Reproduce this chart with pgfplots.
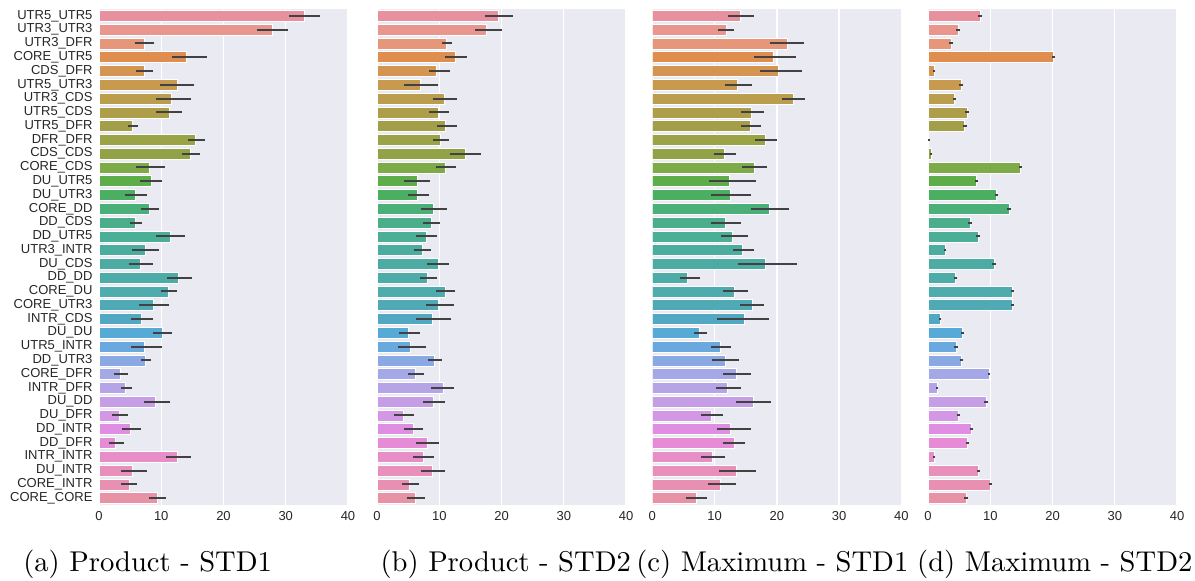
\documentclass[border=0pt]{standalone}
\usepackage{pgfplots}
\pgfplotsset{compat=1.18}
\usepackage{pgfplotstable}
\usepackage{fontspec}
\newfontfamily\sns{Liberation Sans}

\definecolor{bgc}{HTML}{EAEAF2}
\definecolor{errc}{HTML}{424242}
\definecolor{txt}{HTML}{262626}
\definecolor{c0}{HTML}{E8919E}
\definecolor{c1}{HTML}{E9968F}
\definecolor{c2}{HTML}{E6977A}
\definecolor{c3}{HTML}{E08E50}
\definecolor{c4}{HTML}{D39550}
\definecolor{c5}{HTML}{C79A4F}
\definecolor{c6}{HTML}{BA9D4D}
\definecolor{c7}{HTML}{AE9E4A}
\definecolor{c8}{HTML}{A29F48}
\definecolor{c9}{HTML}{9AA447}
\definecolor{c10}{HTML}{92A247}
\definecolor{c11}{HTML}{7DAB48}
\definecolor{c12}{HTML}{5DAD4A}
\definecolor{c13}{HTML}{4AAF61}
\definecolor{c14}{HTML}{4AAF79}
\definecolor{c15}{HTML}{4BAE8A}
\definecolor{c16}{HTML}{4BAE96}
\definecolor{c17}{HTML}{4BADA0}
\definecolor{c18}{HTML}{4CACA4}
\definecolor{c19}{HTML}{4DABA8}
\definecolor{c20}{HTML}{4EABAE}
\definecolor{c21}{HTML}{4FAAB5}
\definecolor{c22}{HTML}{52A8C2}
\definecolor{c23}{HTML}{56AAD6}
\definecolor{c24}{HTML}{6AA9E0}
\definecolor{c25}{HTML}{8AA9E4}
\definecolor{c26}{HTML}{A5A8E6}
\definecolor{c27}{HTML}{B6A5E6}
\definecolor{c28}{HTML}{C69EE6}
\definecolor{c29}{HTML}{D397E5}
\definecolor{c30}{HTML}{E08DE4}
\definecolor{c31}{HTML}{E68BD6}
\definecolor{c32}{HTML}{E78DC7}
\definecolor{c33}{HTML}{E88FBC}
\definecolor{c34}{HTML}{E890B2}
\definecolor{c35}{HTML}{E892A6}

% Product - STD1
\pgfplotstableread{
idx val lo hi
0 33.0 30.5 35.5
1 27.9 25.4 30.3
2 7.2 5.8 8.9
3 14.1 11.7 17.3
4 7.2 5.9 8.7
5 12.5 9.8 15.3
6 11.6 9.1 14.8
7 11.3 9.1 13.4
8 5.4 4.6 6.3
9 15.4 14.3 17.0
10 14.6 13.3 16.2
11 8.1 6.0 10.6
12 8.4 6.6 10.2
13 5.8 4.1 7.7
14 8.0 6.7 9.6
15 5.8 5.0 6.9
16 11.5 9.2 13.8
17 7.4 5.3 9.6
18 6.7 4.8 8.7
19 12.7 10.9 15.0
20 11.1 9.9 12.6
21 8.8 6.5 11.3
22 6.75 5.1 8.7
23 10.1 8.7 11.8
24 7.3 5.1 10.2
25 7.5 6.8 8.4
26 3.4 2.4 4.7
27 4.3 3.5 5.3
28 9.0 7.3 11.4
29 3.2 2.1 4.6
30 5.0 3.7 6.7
31 2.6 1.6 4.0
32 12.6 10.7 14.7
33 5.4 3.5 7.7
34 4.8 3.5 6.1
35 9.3 8.0 10.8
}\tabA

% Product - STD2
\pgfplotstableread{
idx val lo hi
0 19.5 17.3 21.9
1 17.6 15.7 20.1
2 11.2 10.4 12.0
3 12.5 10.9 14.4
4 9.6 8.3 11.7
5 7.0 4.3 9.8
6 10.8 9.0 12.9
7 9.9 8.4 11.6
8 11.0 9.7 12.8
9 10.1 9.0 11.6
10 14.2 11.7 16.7
11 11.0 9.4 12.7
12 6.5 4.4 8.5
13 6.5 4.9 8.4
14 9.0 7.1 11.2
15 8.7 7.4 10.1
16 7.9 6.3 9.7
17 7.3 6.0 8.7
18 9.9 8.1 11.6
19 8.1 6.95 9.7
20 11.0 9.4 12.6
21 9.9 7.9 12.3
22 8.9 6.3 11.9
23 5.0 3.6 6.9
24 5.3 3.4 7.8
25 9.25 8.2 10.4
26 6.15 4.9 7.6
27 10.6 8.7 12.3
28 9.0 7.4 11.0
29 4.3 2.8 5.9
30 5.8 4.4 7.4
31 8.0 6.3 9.9
32 7.4 5.8 9.1
33 8.9 7.0 11.0
34 5.2 4.0 6.7
35 6.15 4.8 7.75
}\tabB

% Maximum - STD1
\pgfplotstableread{
idx val lo hi
0 14.2 12.1 16.3
1 11.9 10.6 13.2
2 21.7 18.9 24.4
3 19.4 16.3 23.1
4 20.2 17.3 24.0
5 13.6 11.6 16.0
6 22.6 20.8 24.5
7 15.9 14.2 18.0
8 15.7 14.2 17.5
9 18.2 16.5 20.1
10 11.6 9.9 13.5
11 16.4 14.4 18.4
12 12.35 9.1 16.7
13 12.6 9.5 15.8
14 18.8 15.9 21.9
15 11.8 9.4 14.3
16 12.9 11.0 15.4
17 14.5 12.9 16.3
18 18.1 13.8 23.2
19 5.7 4.4 7.6
20 13.2 11.3 15.3
21 16.0 14.1 18.0
22 14.7 10.4 18.8
23 7.6 6.7 8.8
24 10.9 9.5 12.6
25 11.7 9.6 14.0
26 13.5 11.4 15.8
27 12.1 10.2 14.2
28 16.3 13.4 19.1
29 9.5 7.8 11.3
30 12.6 10.4 15.8
31 13.1 11.4 14.9
32 9.6 7.8 11.7
33 13.5 10.7 16.7
34 10.9 9.0 13.4
35 7.1 5.4 8.8
}\tabC

% Maximum - STD2
\pgfplotstableread{
idx val lo hi
0 8.4 8.05 8.75
1 4.8 4.5 5.1
2 3.7 3.45 3.95
3 20.2 19.95 20.45
4 1.0 0.8 1.2
5 5.3 5.0 5.6
6 4.2 3.95 4.45
7 6.3 6.0 6.6
8 5.9 5.6 6.2
9 0.1 0.0 0.2
10 0.5 0.35 0.65
11 14.85 14.6 15.1
12 7.8 7.55 8.05
13 11.0 10.7 11.3
14 13.0 12.7 13.3
15 6.75 6.5 7.0
16 8.0 7.7 8.3
17 2.7 2.5 2.9
18 10.6 10.35 10.85
19 4.45 4.2 4.7
20 13.6 13.35 13.85
21 13.6 13.35 13.85
22 1.9 1.7 2.1
23 5.5 5.25 5.75
24 4.5 4.25 4.75
25 5.4 5.15 5.65
26 9.8 9.6 10.0
27 1.45 1.25 1.65
28 9.3 9.0 9.6
29 4.9 4.7 5.1
30 7.0 6.7 7.3
31 6.3 6.05 6.55
32 1.0 0.85 1.15
33 8.1 7.85 8.35
34 10.0 9.75 10.25
35 6.1 5.85 6.35
}\tabD

\pgfplotsset{
  panel/.style={
    scale only axis, width=249pt, height=496pt,
    anchor=south west,
    xmin=0, xmax=40, ymin=-0.5, ymax=35.5, y dir=reverse,
    axis background/.style={fill=bgc},
    axis line style={draw=none},
    major tick length=0pt,
    xtick={0,10,20,30,40},
    xmajorgrids,
    major grid style={white, line width=1.4pt},
    ytick={0,...,35},
    ticklabel style={font=\sns\fontsize{13}{15}\selectfont, text=txt},
    /pgf/number format/assume math mode=true,
    xticklabel style={yshift=-2.5pt},
    yticklabel style={xshift=-3pt},
  },
  barp/.style={xbar, bar shift=0pt, bar width=0.8, draw=white, line width=0.6pt,
    error bars/x dir=both, error bars/x explicit, error bars/error mark=none,
    error bars/error bar style={line width=2pt, draw=errc, solid}},
}

\newcommand{\bars}[1]{%
  \pgfplotsinvokeforeach{0,...,35}{
    \addplot[barp, fill=c##1, restrict y to domain=##1:##1]
      table[x=val, y=idx,
        x error plus expr=\thisrow{hi}-\thisrow{val},
        x error minus expr=\thisrow{val}-\thisrow{lo}] {#1};
  }%
}

\begin{document}
\begin{tikzpicture}
\path[use as bounding box] (0pt,0pt) rectangle (1195pt,-581pt);

\begin{axis}[panel, at={(99pt,-505pt)},
  yticklabels={UTR5\_UTR5, UTR3\_UTR3, UTR3\_DFR, CORE\_UTR5, CDS\_DFR, UTR5\_UTR3,
    UTR3\_CDS, UTR5\_CDS, UTR5\_DFR, DFR\_DFR, CDS\_CDS, CORE\_CDS, DU\_UTR5, DU\_UTR3,
    CORE\_DD, DD\_CDS, DD\_UTR5, UTR3\_INTR, DU\_CDS, DD\_DD, CORE\_DU, CORE\_UTR3,
    INTR\_CDS, DU\_DU, UTR5\_INTR, DD\_UTR3, CORE\_DFR, INTR\_DFR, DU\_DD, DU\_DFR,
    DD\_INTR, DD\_DFR, INTR\_INTR, DU\_INTR, CORE\_INTR, CORE\_CORE}]
\bars{\tabA}
\end{axis}

\begin{axis}[panel, at={(377pt,-505pt)}, yticklabels={}]
\bars{\tabB}
\end{axis}

\begin{axis}[panel, at={(652.3pt,-505pt)}, yticklabels={}]
\bars{\tabC}
\end{axis}

\begin{axis}[panel, at={(928pt,-505pt)}, yticklabels={}]
\bars{\tabD}
\end{axis}

\node[anchor=base west, scale=2.86, font=\fontsize{10}{12}\selectfont, inner sep=0pt] at (22.7pt,-571.7pt) {(a) Product - STD1};
\node[anchor=base west, scale=2.86, font=\fontsize{10}{12}\selectfont, inner sep=0pt] at (380pt,-571.7pt) {(b) Product - STD2};
\node[anchor=base west, scale=2.86, font=\fontsize{10}{12}\selectfont, inner sep=0pt] at (635.7pt,-571.7pt) {(c) Maximum - STD1};
\node[anchor=base east, scale=2.86, font=\fontsize{10}{12}\selectfont, inner sep=0pt] at (1193pt,-571.7pt) {(d) Maximum - STD2};
\end{tikzpicture}
\end{document}
